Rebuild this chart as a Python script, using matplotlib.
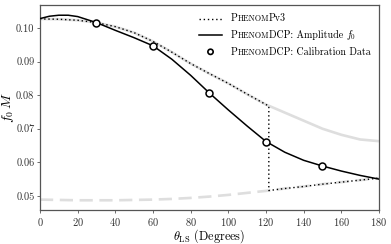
import matplotlib
matplotlib.use("Agg")
import matplotlib.pyplot as plt
from matplotlib.lines import Line2D
from matplotlib.patches import Circle
from matplotlib.offsetbox import (AnchoredOffsetbox, DrawingArea, HPacker,
                                  TextArea, VPacker)

plt.rcParams['font.family'] = 'serif'
plt.rcParams['font.serif'] = ['cmr10']
plt.rcParams['mathtext.fontset'] = 'cm'
plt.rcParams['axes.formatter.use_mathtext'] = True

# angles (degrees)
theta = [0, 10, 20, 30, 40, 50, 60, 70, 80, 90, 100, 110, 120,
         130, 140, 150, 160, 170, 180]
# PhenomPv3 upper and lower branches
pv3_upper = [0.1027, 0.1026, 0.1023, 0.1016, 0.1004, 0.0986, 0.0960, 0.0928,
             0.0894, 0.0864, 0.0835, 0.0803, 0.0772, 0.0748, 0.0724, 0.0700,
             0.0682, 0.0668, 0.0663]
pv3_lower = [0.0489, 0.0488, 0.0487, 0.0487, 0.0487, 0.0488, 0.0489, 0.0491,
             0.0494, 0.0498, 0.0503, 0.0509, 0.0515, 0.0522, 0.0528, 0.0535,
             0.0541, 0.0547, 0.0553]
# jump of PhenomPv3 between branches
theta_jump = 121.5
jump_upper = 0.0768
jump_lower = 0.0516

# PhenomDCP amplitude f0
theta_dcp = [0, 5, 10, 15, 20, 30, 40, 50, 60, 70, 80, 90, 100, 110, 120,
             130, 140, 150, 160, 170, 180]
f0_dcp = [0.1028, 0.1035, 0.1038, 0.1038, 0.1034, 0.1016, 0.0993, 0.0971,
          0.0947, 0.0907, 0.0859, 0.0806, 0.0756, 0.0708, 0.0662, 0.0630,
          0.0606, 0.0589, 0.0574, 0.0561, 0.0550]

# calibration data
theta_cal = [30, 60, 90, 120, 150]
f0_cal = [0.1016, 0.0947, 0.0806, 0.0662, 0.0589]

fig = plt.figure(figsize=(3.91, 2.44), dpi=100)
ax = fig.add_axes([0.1023, 0.1393, 0.8670, 0.8382])

gray = '#dedede'
ax.plot(theta, pv3_upper, color=gray, lw=1.9, solid_capstyle='butt', zorder=1)
ax.plot(theta, pv3_lower, color=gray, lw=1.9, dashes=(5, 2.5), zorder=1)

# dotted PhenomPv3 path: upper branch, jump, lower branch
n_up = sum(1 for t in theta if t < theta_jump)
dot_x = theta[:n_up] + [theta_jump, theta_jump] + theta[n_up:]
dot_y = pv3_upper[:n_up] + [jump_upper, jump_lower] + pv3_lower[n_up:]
ax.plot(dot_x, dot_y, color='black', lw=1.0, ls=(0, (1, 2)), zorder=2)

ax.plot(theta_dcp, f0_dcp, color='black', lw=1.1, zorder=3)
ax.plot(theta_cal, f0_cal, 'o', ms=5, mfc='white', mec='black', mew=1.1,
        zorder=4)

ax.set_xlim(0, 180)
ax.set_ylim(0.0458, 0.1067)
ax.set_xticks(range(0, 181, 20))
ax.set_yticks([0.05, 0.06, 0.07, 0.08, 0.09, 0.10])
ax.set_yticklabels(['0.05', '0.06', '0.07', '0.08', '0.09', '0.10'])
ax.tick_params(labelsize=7.5, length=2, width=0.6, color='#555555',
               labelcolor='#333333', pad=2)
for s in ax.spines.values():
    s.set_color('#555555')
    s.set_linewidth(0.9)

ax.set_xlabel(r'$\theta_{\rm LS}$ (Degrees)', fontsize=8.8, labelpad=0)
ax.set_ylabel(r'$f_0\,M$', fontsize=10, labelpad=0)


def small_caps_row(handle, parts):
    da = DrawingArea(18, 6, 0, 0)
    da.add_artist(handle)
    boxes = [TextArea(t, textprops=dict(fontsize=fs, family='serif'))
             for t, fs in parts]
    txt = HPacker(children=boxes, align='baseline', pad=0, sep=0)
    return HPacker(children=[da, txt], align='center', pad=0, sep=5)


big, small = 7.2, 5.8
rows = [
    small_caps_row(Line2D([0, 17], [3, 3], color='black', lw=1.0,
                          ls=(0, (1, 2))),
                   [('P', big), ('HENOM', small), ('Pv3', big)]),
    small_caps_row(Line2D([0, 17], [3, 3], color='black', lw=1.1),
                   [('P', big), ('HENOM', small), ('DCP: Amplitude ', big),
                    (r'$f_0$', big)]),
    small_caps_row(Circle((8.5, 3), 1.9, fc='white', ec='black', lw=1.2),
                   [('P', big), ('HENOM', small),
                    ('DCP: Calibration Data', big)]),
]
leg = VPacker(children=rows, align='left', pad=0, sep=3.5)
box = AnchoredOffsetbox(loc='upper right', child=leg, pad=0.2, borderpad=0.4,
                        frameon=False, bbox_to_anchor=(1, 1),
                        bbox_transform=ax.transAxes)
ax.add_artist(box)

fig.savefig('out.png', dpi=100)
